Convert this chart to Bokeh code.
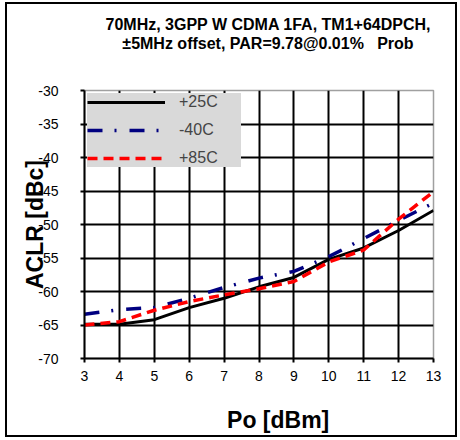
from bokeh.plotting import figure
from bokeh.layouts import column
from bokeh.models import (Range1d, FixedTicker, Legend, LegendItem, Div)
from bokeh.embed import file_html
from bokeh.resources import INLINE

# ---- data ----
power_dbm = [3, 4, 5, 6, 7, 8, 9, 10, 11, 12, 13]
aclr_p25c = [-64.9, -64.9, -64.2, -62.4, -61.0, -59.3, -57.9, -55.2, -53.5, -50.9, -47.9]
aclr_m40c = [-63.4, -62.7, -62.4, -61.0, -59.4, -58.0, -57.0, -54.8, -52.1, -49.4, -46.8]
aclr_p85c = [-65.0, -64.5, -62.8, -61.5, -60.5, -59.6, -58.5, -55.6, -53.8, -49.2, -45.1]
series_labels = ["+25C", "-40C", "+85C"]
x_ticks = [3, 4, 5, 6, 7, 8, 9, 10, 11, 12, 13]
y_ticks = [-70, -65, -60, -55, -50, -45, -40, -35, -30]
title_lines = ["70MHz, 3GPP W CDMA 1FA, TM1+64DPCH,",
               "\u00b15MHz offset, PAR=9.78@0.01%&nbsp;&nbsp;&nbsp;Prob"]
x_title = "Po [dBm]"
y_title = "ACLR [dBc]"

FONT = "Liberation Sans"
W = 448
TITLE_H = 58

title_div = Div(
    text=('<div style="width:522px; text-align:center; padding-top:12px; '
          'line-height:18.5px; font-family:\'Liberation Sans\', Arial, sans-serif; '
          'font-weight:bold; font-size:16px; color:black; white-space:nowrap;">'
          + title_lines[0] + "<br>" + title_lines[1] + "</div>"),
    width=W, height=TITLE_H, margin=0,
    styles={"background-color": "white"})

p = figure(width=W, height=431 - TITLE_H, output_backend="svg", toolbar_location=None,
           title=None, x_range=Range1d(3, 13), y_range=Range1d(-70, -30),
           min_border_left=77, min_border_right=22, min_border_top=86 - TITLE_H,
           min_border_bottom=74, margin=0)
p.background_fill_color = "white"
p.border_fill_color = "white"
p.outline_line_color = "#a0a0a0"
p.outline_line_width = 1.5

# axes
p.xaxis.ticker = FixedTicker(ticks=x_ticks)
p.yaxis.ticker = FixedTicker(ticks=y_ticks)
p.xaxis.major_label_overrides = {t: str(t) for t in x_ticks}
p.yaxis.major_label_overrides = {t: str(t) for t in y_ticks}
for ax in (p.xaxis[0], p.yaxis[0]):
    ax.axis_line_color = "black"
    ax.axis_line_width = 2
    ax.major_tick_line_color = "black"
    ax.major_tick_line_width = 2
    ax.major_tick_out = 4
    ax.major_tick_in = 0
    ax.minor_tick_line_color = None
    ax.major_label_text_font = FONT
    ax.major_label_text_font_size = "14px"
    ax.major_label_text_color = "black"
    ax.axis_label_text_font = FONT
    ax.axis_label_text_font_style = "bold"
    ax.axis_label_text_font_size = "23px"
    ax.axis_label_text_color = "black"
p.xaxis.major_label_standoff = 8
p.yaxis.major_label_standoff = 22
p.xaxis.axis_label = "\u00a0" * 6 + x_title
p.yaxis.axis_label = y_title
p.xaxis.axis_label_standoff = 23
p.yaxis.axis_label_standoff = -13

# grid
p.xgrid.ticker = FixedTicker(ticks=x_ticks[1:])
p.ygrid.ticker = FixedTicker(ticks=y_ticks[:-1])
p.xgrid.grid_line_color = "black"
p.ygrid.grid_line_color = "black"
p.xgrid.grid_line_width = 2
p.ygrid.grid_line_width = 2

# series
r1 = p.line(power_dbm, aclr_p25c, line_color="black", line_width=3)
r2 = p.line(power_dbm, aclr_m40c, line_color="#000080", line_width=3.5, line_dash="15 12 2 13")
r3 = p.line(power_dbm, aclr_p85c, line_color="#ff0000", line_width=3.5, line_dash="10 6")

legend = Legend(items=[LegendItem(label=series_labels[0], renderers=[r1]),
                       LegendItem(label=series_labels[1], renderers=[r2]),
                       LegendItem(label=series_labels[2], renderers=[r3])],
                location="top_left", margin=3, padding=5, spacing=10,
                glyph_width=78, glyph_height=16, label_height=16, label_width=62,
                label_standoff=14,
                background_fill_color="#d9d9d9", background_fill_alpha=1.0,
                border_line_color=None, level="overlay",
                label_text_font=FONT, label_text_font_size="16px")
p.add_layout(legend, "center")

layout = column(title_div, p, spacing=0,
                styles={"border": "2px solid black", "margin-left": "5px",
                        "margin-top": "2px", "background-color": "white"})

open("out.html", "w").write(file_html(layout, INLINE))
